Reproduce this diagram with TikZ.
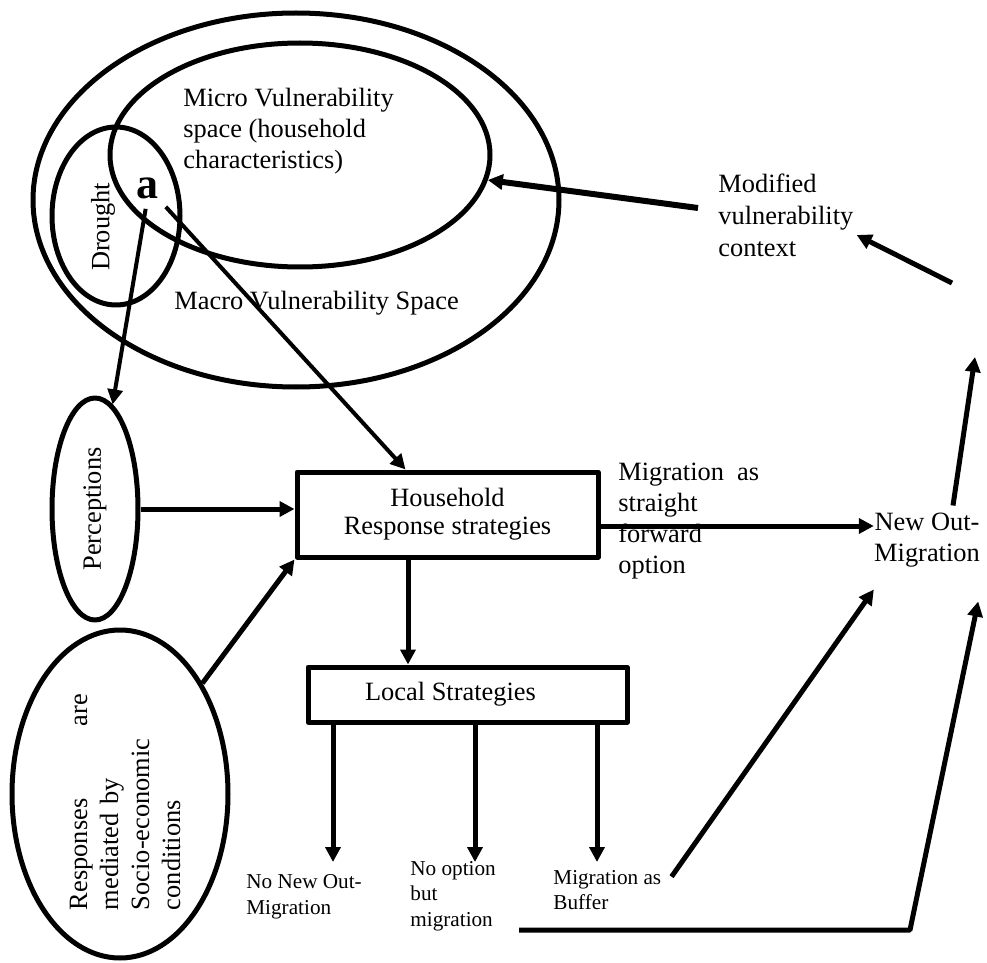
\documentclass[tikz,border=0pt]{standalone}
\usepackage{fontspec}
\setmainfont{Liberation Serif}
\usetikzlibrary{arrows.meta,shapes.geometric}
\newcommand{\mainsize}{\fontsize{13.2pt}{15.5pt}\selectfont}
\newcommand{\notesize}{\fontsize{10.6pt}{12.8pt}\selectfont}
\tikzset{
  every picture/.style={line join=round, >={Triangle[length=7.5pt,width=7.5pt]}},
  oval/.style={ellipse, draw, line width=2.5pt, inner sep=0pt},
  stratbox/.style={rectangle, draw, line width=2.5pt, inner sep=0pt},
  txt/.style={font=\mainsize, inner sep=0pt, align=left},
  note/.style={font=\notesize, inner sep=0pt, align=left},
  arr/.style={->, line width=2.5pt},
  thinarr/.style={->, line width=2pt},
  heavyarr/.style={->, line width=3pt},
}

\begin{document}
\begin{tikzpicture}[x=0.5pt,y=-0.5pt]
\useasboundingbox (0,0) rectangle (987,963);
% vulnerability spaces
\node[oval,minimum width=263pt,minimum height=187pt] (macro) at (296,200) {};
\node[oval,minimum width=190pt,minimum height=112pt] (micro) at (300,155) {};
\node[oval,minimum width=64pt,minimum height=89pt] (drought) at (116,216) {};
\node[txt,anchor=west] (microlbl) at (183,131) {Micro Vulnerability\\space (household\\characteristics)};
\node[txt,anchor=west] (macrolbl) at (174,303) {Macro Vulnerability Space};
\node[txt,rotate=90] (droughtlbl) at (103,227) {Drought};
\node[inner sep=1pt,font=\fontsize{22pt}{22pt}\selectfont\bfseries] (a) at (147,188) {a};
% left ovals
\node[oval,rotate=90,minimum width=111pt,minimum height=43pt,font=\mainsize] (perc) at (95,509) {Perceptions};
\node[oval,minimum width=108pt,minimum height=164pt] (resp) at (120,794) {};
\node[txt,rotate=90,text width=110pt] (resplbl) at (125,800) {\hbox to 108pt{Responses\hfill are}\\mediated by\\Socio-economic\\conditions};
% boxes
\node[stratbox,minimum width=150.5pt,minimum height=42.5pt,align=center,font=\fontsize{13.2pt}{14pt}\selectfont] (hh) at (447.5,514.5) {Household\\Response strategies};
\node[stratbox,minimum width=159.5pt,minimum height=27.5pt,font=\mainsize] (local) at (467.5,694.5) {\hspace*{-17pt}Local Strategies};
% outcomes
\node[note,anchor=west] (nonew) at (246,897) {No New Out-\\Migration};
\node[note,anchor=west] (nooption) at (410,896) {No option\\but\\migration};
\node[note,anchor=west] (buffer) at (553,890) {Migration as\\Buffer};
\node[txt,anchor=west] (straight) at (618,521) {Migration\ \ as\\straight\\forward\\option};
\node[txt,align=center] (newout) at (927,540) {New Out-\\Migration};
\node[txt,anchor=west,font=\fontsize{13.2pt}{16pt}\selectfont] (modified) at (718,215) {Modified\\vulnerability\\context};
% free ends
\coordinate (uptip) at (975,357);
\coordinate (dntail) at (952,283);
\coordinate (elbow) at (910,930);
% connectors
\draw[thinarr,shorten <=4pt] (a.south) -- (perc);
\draw[thinarr,shorten <=4pt] (a.south east) -- ([xshift=-21pt]hh.north);
\draw[arr] (perc) -- (perc -| hh.west);
\draw[arr] (resp) -- (hh.south west);
\draw[arr] ([xshift=-19.75pt]hh.south) -- ([xshift=-19.75pt]hh.south |- local.north);
\draw[arr] ([yshift=-5.75pt]hh.east) -- ([yshift=-5.75pt]hh.east -| newout.west);
\foreach \x [count=\i] in {333,475,597} {
  \coordinate (tip\i) at (\x,862);
  \draw[arr] (local.south -| tip\i) -- (tip\i);
}
\draw[arr] ([xshift=5pt,yshift=-3.5pt]buffer.north east) -- ([yshift=-11pt]newout.south west);
\draw[arr] ([xshift=11.5pt]nooption.south east |- elbow) -- (elbow) -- ([xshift=-1pt,yshift=-17pt]newout.south east);
\draw[arr] ([xshift=13pt,yshift=3.5pt]newout.north) -- (uptip);
\draw[arr] (dntail) -- ([xshift=1.5pt,yshift=-10pt]modified.east);
\draw[heavyarr] ([xshift=-10pt,yshift=3.5pt]modified.west) -- (micro);
\end{tikzpicture}
\end{document}
